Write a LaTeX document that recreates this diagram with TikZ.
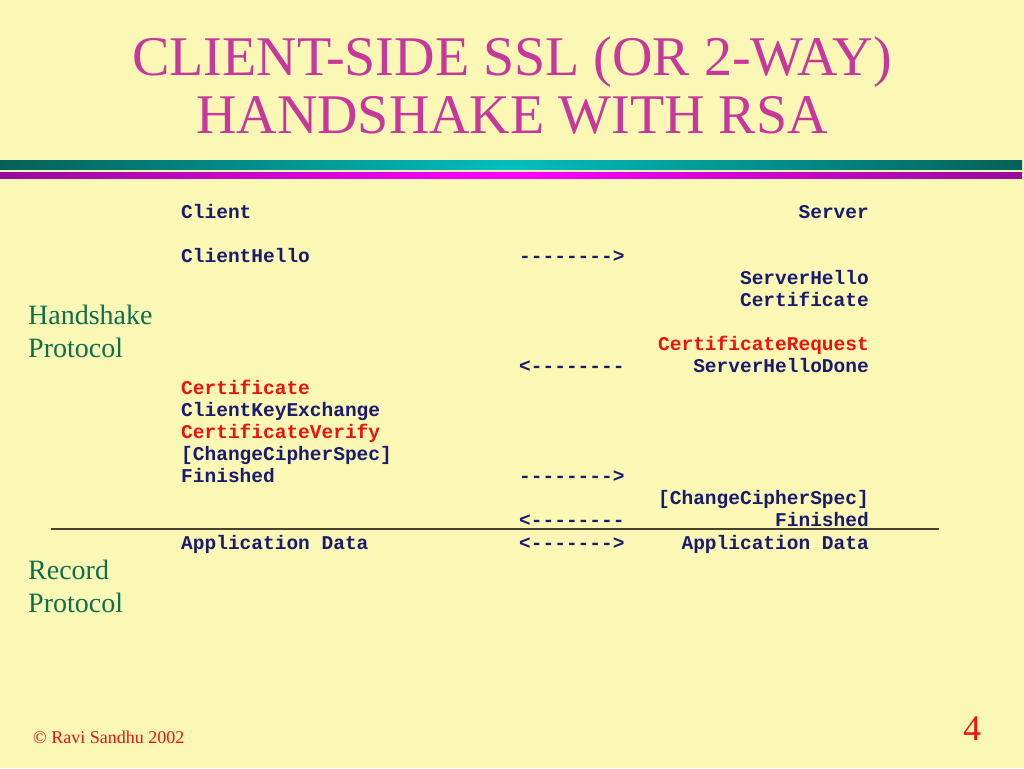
\documentclass[tikz,border=0pt]{standalone}
\usepackage{fontspec}
\setmainfont{Liberation Serif}
\setmonofont{Liberation Mono}
\definecolor{bg}{HTML}{FAF8B4}
\definecolor{titlec}{HTML}{C8389C}
\definecolor{labc}{HTML}{0F6E50}
\definecolor{navy}{HTML}{1A1A6E}
\definecolor{redt}{HTML}{F01010}
\definecolor{tealedge}{HTML}{05605A}
\definecolor{tealmid}{HTML}{00BEBE}
\definecolor{magedge}{HTML}{980C9A}
\definecolor{magmid}{HTML}{FF00FF}
\definecolor{rulec}{HTML}{4A4230}
\tikzset{
  titletxt/.style={font=\fontsize{56}{62}\selectfont, text=titlec, inner sep=0pt, align=center},
  labtxt/.style={font=\fontsize{28}{33}\selectfont, text=labc, inner sep=0pt, anchor=base west},
  msg/.style={font=\fontsize{19.5}{22}\selectfont\ttfamily\bfseries, text=navy, inner sep=0pt},
  msgl/.style={msg, anchor=base west},
  msgr/.style={msg, anchor=base east},
  redmsg/.style={text=redt},
  foot/.style={text=redt, inner sep=0pt, anchor=base west}
}
\begin{document}
\begin{tikzpicture}[x=1pt,y=-1pt]
\useasboundingbox (0,0) rectangle (1024,768);
\fill[bg] (0,0) rectangle (1024,768);
% title
\node[titletxt] (t1) at (512,62) {CLIENT-SIDE SSL (OR 2-WAY)};
\node[titletxt] (t2) at (512,115) {HANDSHAKE WITH RSA};
% bars
\shade[left color=tealedge, right color=tealedge, middle color=tealmid] (0,160) rectangle (1022,169);
\shade[left color=magedge, right color=magedge, middle color=magmid] (0,172) rectangle (1022,178);
% left labels
\node[labtxt] (hs1) at (28,324) {Handshake};
\node[labtxt] (hs2) at (28,357) {Protocol};
\node[labtxt] (rp1) at (28,579) {Record};
\node[labtxt] (rp2) at (28,612) {Protocol};
% client column
\node[msgl] (cli) at (181,218) {Client};
\node[msgl] (chello) at (181,262) {ClientHello};
\node[msgl,redmsg] (ccert) at (181,394) {Certificate};
\node[msgl] (ckx) at (181,416) {ClientKeyExchange};
\node[msgl,redmsg] (cver) at (181,438) {CertificateVerify};
\node[msgl] (cccs) at (181,460) {[ChangeCipherSpec]};
\node[msgl] (cfin) at (181,482) {Finished};
\node[msgl] (capp) at (181,549) {Application Data};
% arrows column
\node[msgl] (a1) at (519,262) {-{}-{}-{}-{}-{}-{}-{}->};
\node[msgl] (a2) at (519,372) {<-{}-{}-{}-{}-{}-{}-{}-};
\node[msgl] (a3) at (519,482) {-{}-{}-{}-{}-{}-{}-{}->};
\node[msgl] (a4) at (519,526) {<-{}-{}-{}-{}-{}-{}-{}-};
\node[msgl] (a5) at (519,549) {<-{}-{}-{}-{}-{}-{}->};
% server column
\node[msgr] (srv) at (869,218) {Server};
\node[msgr] (shello) at (869,284) {ServerHello};
\node[msgr] (scert) at (869,306) {Certificate};
\node[msgr,redmsg] (sreq) at (869,350) {CertificateRequest};
\node[msgr] (sdone) at (869,372) {ServerHelloDone};
\node[msgr] (sccs) at (869,504) {[ChangeCipherSpec]};
\node[msgr] (sfin) at (869,526) {Finished};
\node[msgr] (sapp) at (869,549) {Application Data};
% separator line
\coordinate (ruleL) at (51,529);
\coordinate (ruleR) at (939,529);
\draw[rulec, line width=1.5pt] (ruleL) -- (ruleR);
% footer
\node[foot, font=\fontsize{18}{20}\selectfont] (copy) at (33,743) {© Ravi Sandhu 2002};
\node[foot, font=\fontsize{36}{40}\selectfont] (pg) at (963,740) {4};
\end{tikzpicture}
\end{document}
